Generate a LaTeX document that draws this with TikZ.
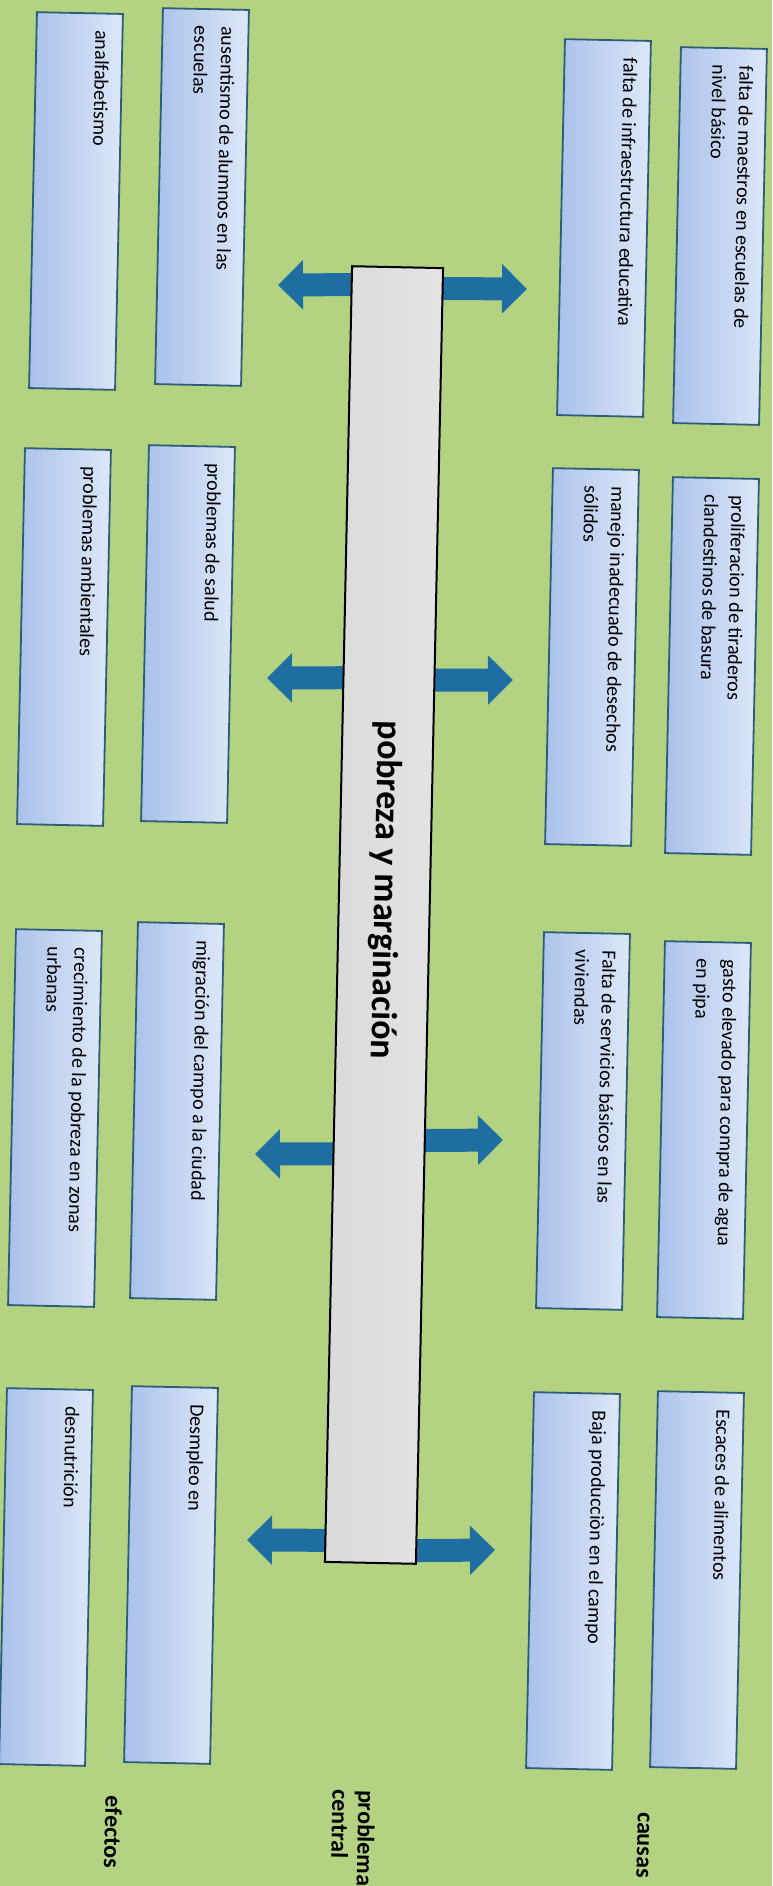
\documentclass[tikz,border=0pt]{standalone}
\usepackage{fontspec}
\setmainfont{Carlito}
\usetikzlibrary{arrows.meta,calc}
\definecolor{bgreen}{HTML}{B3D383}
\definecolor{boxline}{HTML}{2E5D78}
\definecolor{boxlight}{HTML}{DDE7F8}
\definecolor{boxmid}{HTML}{C0D2F1}
\definecolor{boxdark}{HTML}{A9C1EA}
\definecolor{arrblue}{HTML}{1E6EA2}
\definecolor{barlight}{HTML}{F2F2F2}
\definecolor{bardark}{HTML}{DADADA}
\newcommand\bx[1]{\parbox[c][35pt][t]{171pt}{\raggedright\strut #1}}
\pgfdeclarelayer{bglayer}
\pgfdeclarelayer{arrlayer}
\pgfsetlayers{bglayer,arrlayer,main}
\begin{document}
\begin{tikzpicture}[x=0.5pt,y=-0.5pt,
  cbox/.style={rotate=-91.2, draw=boxline, line width=0.9pt,
    left color=boxdark, middle color=boxmid, right color=boxlight,
    minimum width=188pt, minimum height=43pt,
    inner xsep=8.5pt, inner ysep=4pt,
    font=\fontsize{10}{13.5}\selectfont},
  barbox/.style={rotate=-91.2, draw=black, line width=1pt,
    left color=bardark, middle color=barlight, right color=bardark!60!barlight,
    minimum width=648pt, minimum height=45.5pt, inner sep=0pt,
    font=\fontsize{18}{20}\selectfont\bfseries},
  lbl/.style={rotate=-91.2, align=left, inner sep=0pt,
    font=\fontsize{12}{13}\selectfont\bfseries},
  bigarrow/.style={draw=arrblue, line width=11.5pt,
    -{Triangle[width=24pt,length=12.5pt]}}
]
\useasboundingbox (0,0) rectangle (772,1886);
\begin{pgfonlayer}{bglayer}
\fill[bgreen] (0,0) rectangle (772,1886);
\end{pgfonlayer}

% central problem
\node[barbox] (bar) at (384,915) {pobreza y marginación\hspace*{25pt}};

% causes (outer column)
\node[cbox] (c1) at (720,236) {\bx{falta de maestros en escuelas de\\nivel básico}};
\node[cbox] (c2) at (712,666) {\bx{proliferacion de tiraderos\\clandestinos de basura}};
\node[cbox] (c3) at (704,1130) {\bx{gasto elevado para compra de agua\\en pipa}};
\node[cbox] (c4) at (697,1580) {\bx{Escaces de alimentos}};
% causes (inner column)
\node[cbox] (c5) at (604,228) {\bx{falta de infraestructura educativa}};
\node[cbox] (c6) at (592,657) {\bx{manejo inadecuado de desechos\\sólidos}};
\node[cbox] (c7) at (583,1121) {\bx{Falta de servicios básicos en las\\viviendas}};
\node[cbox] (c8) at (573,1581) {\bx{Baja producciòn en el campo}};
% effects (inner column)
\node[cbox] (e1) at (202,197) {\bx{ausentismo de alumnos en las\\escuelas}};
\node[cbox] (e2) at (188,634) {\bx{problemas de salud}};
\node[cbox] (e3) at (177,1111) {\bx{migración del campo a la ciudad}};
\node[cbox] (e4) at (171,1575) {\bx{Desmpleo en}};
% effects (outer column)
\node[cbox] (e5) at (76,201) {\bx{analfabetismo}};
\node[cbox] (e6) at (64,637) {\bx{problemas ambientales}};
\node[cbox] (e7) at (55,1118) {\bx{crecimiento de la pobreza en zonas\\urbanas}};
\node[cbox] (e8) at (46,1577) {\bx{desnutrición}};

% labels
\node[lbl] (lcausas) at (643,1845) {causas};
\node[lbl] (lcentral) at (353,1838) {problema\\central};
\node[lbl] (lefectos) at (113,1832) {efectos};

% arrow tips
\coordinate (tl1) at (278,285);
\coordinate (tr1) at (527,289);
\coordinate (tl2) at (267,678);
\coordinate (tr2) at (513,680);
\coordinate (tl3) at (255,1154);
\coordinate (tr3) at (503,1140);
\coordinate (tl4) at (247,1540);
\coordinate (tr4) at (495,1550);

\begin{pgfonlayer}{arrlayer}
\draw[bigarrow] ($(bar.west)!0.014!(bar.east)$) -- (tl1);
\draw[bigarrow] ($(bar.west)!0.017!(bar.east)$) -- (tr1);
\draw[bigarrow] ($(bar.west)!0.317!(bar.east)$) -- (tl2);
\draw[bigarrow] ($(bar.west)!0.319!(bar.east)$) -- (tr2);
\draw[bigarrow] ($(bar.west)!0.684!(bar.east)$) -- (tl3);
\draw[bigarrow] ($(bar.west)!0.674!(bar.east)$) -- (tr3);
\draw[bigarrow] ($(bar.west)!0.982!(bar.east)$) -- (tl4);
\draw[bigarrow] ($(bar.west)!0.990!(bar.east)$) -- (tr4);
\end{pgfonlayer}
\end{tikzpicture}
\end{document}
